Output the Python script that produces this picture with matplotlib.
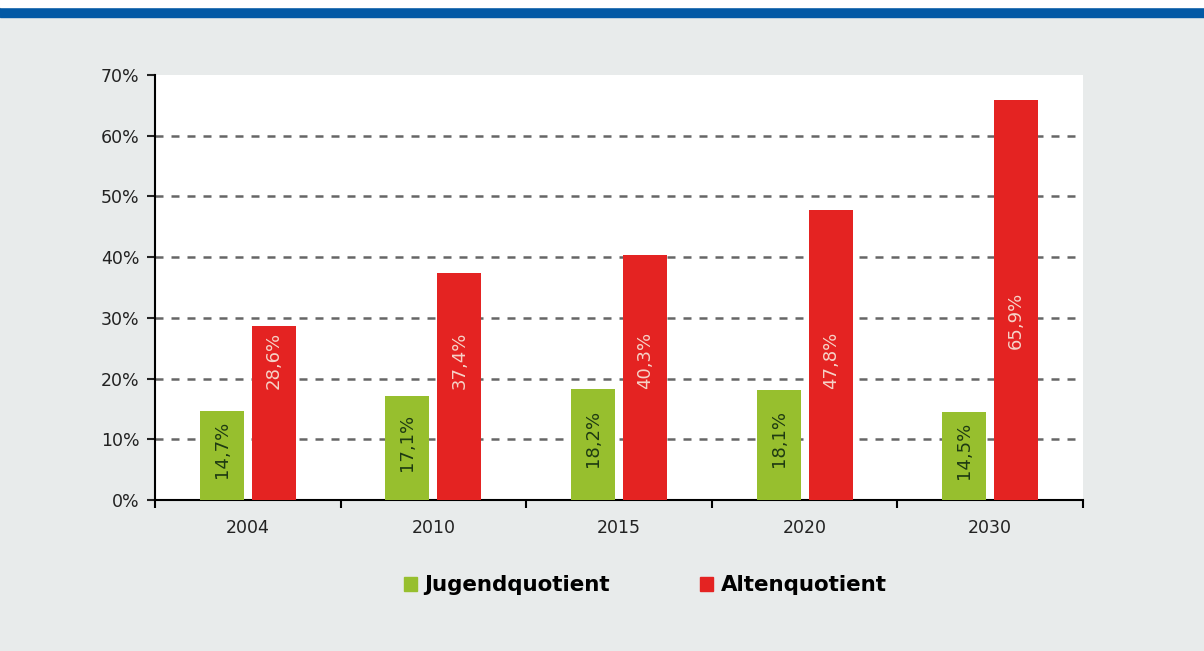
import numpy as np
import matplotlib.pyplot as plt
from matplotlib.patches import Patch

years = ['2004', '2010', '2015', '2020', '2030']
jugend = [14.7, 17.1, 18.2, 18.1, 14.5]
alten = [28.6, 37.4, 40.3, 47.8, 65.9]
series_names = ['Jugendquotient', 'Altenquotient']

GREEN = '#97bf2e'
RED = '#e42322'
BG = '#e8ebeb'


def fmt(v):
    return f'{v:.1f}%'.replace('.', ',')


def main():
    fig = plt.figure(figsize=(12.04, 6.51), dpi=100, facecolor=BG)
    # blue stripe on top
    fig.patches.append(plt.Rectangle((0, 0.974), 1, 0.015, transform=fig.transFigure,
                                     color='#0359a5', zorder=0))
    fig.patches.append(plt.Rectangle((0, 0.989), 1, 0.011, transform=fig.transFigure,
                                     color='white', zorder=0))

    ax = fig.add_axes([0.1287, 0.232, 0.7708, 0.6528])
    ax.set_facecolor('white')
    x = np.arange(len(years))
    w = 0.237
    off = 0.14
    ax.bar(x - off, jugend, w, color=GREEN, zorder=3)
    ax.bar(x + off, alten, w, color=RED, zorder=3)

    for xi, v in zip(x, jugend):
        ax.text(xi - off, v / 2 + 1, fmt(v), rotation=90, ha='center', va='center',
                color='#1e3a12', fontsize=13, family='DejaVu Sans', zorder=4)
    for xi, v in zip(x, alten):
        ax.text(xi + off, max(23, v * 0.45), fmt(v), rotation=90, ha='center', va='center',
                color='#f6d3c8', fontsize=13, family='DejaVu Sans', zorder=4)

    ax.set_xlim(-0.5, len(years) - 0.5)
    ax.set_ylim(0, 70)
    ax.set_yticks(np.arange(0, 71, 10))
    ax.set_yticklabels([f'{t}%' for t in range(0, 71, 10)], family='DejaVu Sans', fontsize=12.5)
    ax.set_xticks(x)
    ax.set_xticklabels(years, family='DejaVu Sans', fontsize=12.5)
    ax.set_xticks(np.arange(-0.5, len(years), 1), minor=True)
    ax.tick_params(axis='x', which='major', length=0, pad=14)
    ax.tick_params(axis='x', which='minor', length=6, width=1.5, direction='out')
    ax.tick_params(axis='y', length=6, width=1.5, direction='out', pad=5)
    ax.tick_params(colors='#222222')

    for y in range(10, 70, 10):
        ax.axhline(y, color='#666666', lw=1.8, dashes=(3.2, 3.2), zorder=1)

    for s in ['top', 'right']:
        ax.spines[s].set_visible(False)
    ax.spines['left'].set_linewidth(1.5)
    ax.spines['bottom'].set_linewidth(1.5)

    handles = [Patch(color=GREEN), Patch(color=RED)]
    fig.legend(handles, series_names, loc='center', bbox_to_anchor=(0.536, 0.101),
               ncol=2, frameon=False, handlelength=0.6, handleheight=0.6,
               handletextpad=0.35, columnspacing=4.2,
               prop={'family': 'DejaVu Sans', 'weight': 'bold', 'size': 15.4})

    fig.savefig('out.png', dpi=100, facecolor=BG)


if __name__ == '__main__':
    main()
